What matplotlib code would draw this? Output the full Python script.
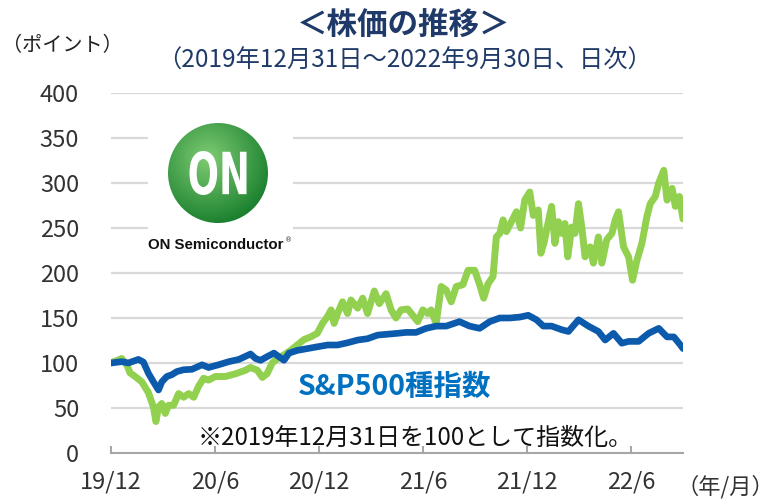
import numpy as np
import matplotlib
matplotlib.use("Agg")
import matplotlib.pyplot as plt
from matplotlib.patches import Circle, PathPatch
from matplotlib.textpath import TextPath
from matplotlib.font_manager import FontProperties
from matplotlib.transforms import Affine2D

plt.rcParams['font.family'] = ['Noto Sans CJK JP', 'DejaVu Sans']

# ---- data (months since 2019-12-31, index value; 2019-12-31 = 100) ----
on_months = [0, 0.62, 0.91, 1.1, 1.39, 1.78, 2.16, 2.45, 2.59, 2.74, 2.93, 3.13, 3.32, 3.61,
             3.9, 4.19, 4.48, 4.77, 5.05, 5.34, 5.63, 6.02, 6.6, 7.18, 7.76, 8.05, 8.44,
             8.73, 9.0, 9.3, 9.6, 9.98, 10.36, 10.75, 11.13, 11.52, 11.9, 12.2, 12.5, 12.7,
             12.87, 13.07, 13.36, 13.65, 13.84, 14.23, 14.52, 14.8, 15.19, 15.48, 15.87,
             16.16, 16.44, 16.73, 17.12, 17.41, 17.7, 17.99, 18.28, 18.47, 18.76, 19.05,
             19.34, 19.63, 19.92, 20.3, 20.6, 20.98, 21.27, 21.5, 21.75, 22.04, 22.23,
             22.43, 22.62, 22.81, 23.1, 23.39, 23.63, 23.87, 24.16, 24.36, 24.65, 24.8,
             25.0, 25.13, 25.42, 25.61, 25.81, 26.0, 26.19, 26.35, 26.58, 26.77, 26.97,
             27.16, 27.35, 27.64, 27.83, 28.12, 28.32, 28.6, 28.9, 29.09, 29.28, 29.57,
             29.86, 30.09, 30.34, 30.63, 30.92, 31.11, 31.4, 31.6, 31.89, 32.08, 32.37,
             32.56, 32.79, 33.0]
on_values = [100, 105, 98, 89, 85, 79, 67, 51, 35, 51, 55, 44, 53, 53,
             66, 62, 66, 62, 74, 83, 81, 85, 85, 88, 92, 95, 92,
             84, 88, 100, 105, 109, 114, 120, 126, 129, 133, 144, 152, 159,
             144, 155, 168, 155, 170, 161, 172, 155, 180, 166, 177,
             159, 150, 159, 160, 153, 146, 159, 155, 159, 144, 185,
             181, 168, 185, 187, 203, 203, 187, 172, 188, 196, 240,
             244, 259, 246, 257, 268, 250, 281, 290, 264, 270, 222,
             235, 248, 274, 233, 257, 244, 255, 218, 251, 244, 277,
             251, 218, 229, 211, 240, 211, 237, 244, 259, 268, 229,
             218, 192, 214, 233, 263, 277, 285, 300, 314, 281, 294,
             274, 285, 260]

sp_months = [0, 0.62, 1.0, 1.58, 1.87, 2.16, 2.45, 2.74, 2.93, 3.22, 3.51, 3.8, 4.19, 4.67,
             5.25, 5.63, 6.2, 6.8, 7.38, 8.05, 8.34, 8.63, 9.0, 9.4, 9.69, 9.98, 10.27,
             10.75, 11.33, 11.9, 12.5, 13.07, 13.65, 14.23, 14.8, 15.38, 15.96, 16.54,
             17.02, 17.6, 18.18, 18.76, 19.34, 20.1, 20.69, 21.27, 21.85, 22.43, 23.0,
             23.58, 24.07, 24.55, 24.94, 25.42, 26.0, 26.39, 26.97, 27.54, 28.12, 28.51,
             28.99, 29.47, 29.86, 30.44, 31.02, 31.6, 32.08, 32.47, 32.85, 33.0]
sp_values = [100, 101.5, 100, 104, 101, 88.5, 79, 70, 79, 85, 87, 90.5, 92.5, 93,
             98, 95, 98, 101.5, 104, 110, 105, 103, 107, 111, 107, 103, 111,
             114, 116, 118, 120, 120, 122.5, 125.5, 127, 131, 132, 133,
             134, 134, 138.5, 141, 141, 146, 141, 138.5, 146, 150, 150,
             151, 153, 148, 141, 141, 137, 135, 148, 141, 135, 125.5,
             133, 122, 124, 124, 133, 138.5, 129, 129, 120, 116]

tick_pos = [0, 6, 12, 18, 24, 30]
tick_labels = ['19/12', '20/6', '20/12', '21/6', '21/12', '22/6']
y_ticks = [0, 50, 100, 150, 200, 250, 300, 350, 400]

W, H = 776, 499
fig = plt.figure(figsize=(W / 100, H / 100), dpi=100)
fig.patch.set_facecolor('white')

def fx(px):
    return px / W

def fy(py):
    return 1 - py / H

ax = fig.add_axes([fx(111), fy(453), fx(683) - fx(111), fy(93) - fy(453)])
ax.set_xlim(0, 33)
ax.set_ylim(0, 400)
for s in ['top', 'right', 'left']:
    ax.spines[s].set_visible(False)
ax.spines['bottom'].set_color('#a6a6a6')
ax.spines['bottom'].set_linewidth(1.5)
for v in y_ticks[1:]:
    ax.axhline(v, color='#d9d9d9', lw=1.6, zorder=0)

ax.set_yticks(y_ticks)
ax.set_yticklabels([str(v) for v in y_ticks])
ax.tick_params(axis='y', length=0, pad=23, labelsize=17, labelcolor='#333333')
ax.set_xticks(tick_pos)
ax.set_xticklabels(tick_labels)
ax.tick_params(axis='x', direction='in', length=5, width=1.5, color='#a6a6a6',
               pad=12.5, labelsize=17, labelcolor='#333333')

ax.plot(on_months, on_values, color='#92d050', lw=5, solid_joinstyle='round',
        solid_capstyle='round', zorder=3)
ax.plot(sp_months, sp_values, color='#0b5aab', lw=4.8, solid_joinstyle='round',
        solid_capstyle='round', zorder=4)

# texts
fig.text(fx(404), fy(25), '＜株価の推移＞', ha='center', va='center', fontsize=22,
         fontweight='bold', color='#1f3a68')
fig.text(fx(404), fy(61), '（2019年12月31日～2022年9月30日、日次）', ha='center', va='center',
         fontsize=17.5, color='#1f3a68')
fig.text(fx(62), fy(46), '（ポイント）', ha='center', va='center', fontsize=14.5, color='#222222')
fig.text(fx(774), fy(487), '（年/月）', ha='right', va='center', fontsize=16, color='#333333')
ax.text(10.8, 73, 'S&P500種指数', transform=ax.transData, fontsize=20.5, fontweight='bold',
        color='#0070c0', va='center', ha='left', zorder=6)
fig.text(fx(415), fy(438), '※2019年12月31日を100として指数化。', ha='center', va='center',
         fontsize=17.3, color='#111111')

# logo
lax = fig.add_axes([fx(148), fy(262), fx(293) - fx(148), fy(100) - fy(262)])
lax.set_xlim(0, 145)
lax.set_ylim(0, 162)
lax.set_facecolor('white')
lax.axis('off')
lax.add_patch(plt.Rectangle((0, 0), 145, 162, color='white', zorder=0))
cx, cy, r = 70, 89, 50
gx, gy = np.meshgrid(np.linspace(cx - r, cx + r, 300), np.linspace(cy - r, cy + r, 300))
d = np.sqrt((gx - (cx - 0.2 * r)) ** 2 + (gy - (cy + 0.3 * r)) ** 2) / (1.35 * r)
d = np.clip(d, 0, 1)
c1 = np.array([0.50, 0.80, 0.45])
c2 = np.array([0.10, 0.50, 0.18])
img = c1[None, None, :] * (1 - d[..., None]) + c2[None, None, :] * d[..., None]
im = lax.imshow(img, extent=(cx - r, cx + r, cy - r, cy + r), origin='lower', zorder=1)
circ = Circle((cx, cy), r, transform=lax.transData, facecolor='none', edgecolor='none')
lax.add_patch(circ)
im.set_clip_path(circ)
tp = TextPath((0, 0), 'ON', size=50, prop=FontProperties(family='DejaVu Sans', weight='bold'))
ext = tp.get_extents()
sx = 57 / ext.width
sy = 44 / ext.height
tr = Affine2D().translate(-ext.x0, -ext.y0).scale(sx, sy).translate(41.5, 67)
lax.add_patch(PathPatch(tr.transform_path(tp), facecolor='white', edgecolor='none', zorder=3))
lax.text(68, 17, 'ON Semiconductor', ha='center', va='center', fontsize=10.8,
         fontweight='bold', family='Liberation Sans', color='#111111')
lax.text(141, 22, '®', ha='center', va='center', fontsize=5, family='DejaVu Sans',
         color='#333333')

fig.savefig('out.png', dpi=100, facecolor='white')
